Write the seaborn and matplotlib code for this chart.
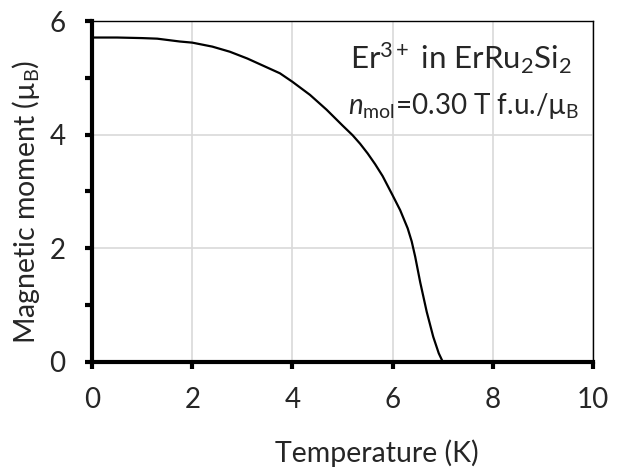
import seaborn as sns
import matplotlib.pyplot as plt
import pandas as pd

sns.set_style("white")
plt.rcParams['font.family'] = ['Lato', 'DejaVu Sans']
plt.rcParams['mathtext.fontset'] = 'custom'
plt.rcParams['mathtext.rm'] = 'Lato'
plt.rcParams['mathtext.it'] = 'Lato:italic'

# magnetic moment of Er3+ vs temperature
temperature = [0.0, 0.5, 1.0, 1.3, 1.75, 2.0, 2.4, 2.75, 3.1, 3.35, 3.75, 4.0, 4.35,
               4.68, 5.0, 5.2, 5.35, 5.5, 5.65, 5.8, 6.0, 6.15, 6.3, 6.38, 6.45, 6.55,
               6.68, 6.81, 6.92, 7.0, 10.0]
moment = [5.71, 5.71, 5.70, 5.69, 5.64, 5.62, 5.55, 5.46, 5.34, 5.24, 5.08, 4.93, 4.70,
          4.44, 4.16, 3.99, 3.84, 3.67, 3.48, 3.27, 2.93, 2.67, 2.35, 2.12, 1.85, 1.40,
          0.88, 0.44, 0.15, 0.0, 0.0]

data = pd.DataFrame({"Temperature (K)": temperature, "moment": moment})

fig = plt.figure(figsize=(6.18, 4.68), dpi=100)
ax = fig.add_axes([0.149, 0.227, 0.8106, 0.728])
sns.lineplot(x="Temperature (K)", y="moment", data=data, sort=False, color="black",
             linewidth=1.6, ax=ax)

ax.set_xlim(0, 10)
ax.set_ylim(0, 6)
ax.set_xticks(range(0, 11, 2))
ax.set_yticks(range(0, 7, 2))
ax.set_yticks([1, 3, 5], minor=True)
ax.grid(True, which="major", color="#d9d9d9", linewidth=1.2)
ax.set_axisbelow(True)

for side in ["left", "bottom"]:
    ax.spines[side].set_linewidth(3)
for side in ["top", "right"]:
    ax.spines[side].set_linewidth(1)
for s in ax.spines.values():
    s.set_color("black")

ax.tick_params(which="both", direction="out", length=5, width=3, color="black",
               labelsize=20)
ax.tick_params(axis="x", pad=13, bottom=True)
ax.tick_params(axis="y", which="both", pad=14, left=True)

ax.set_xlabel("Temperature (K)", fontsize=20.5)
ax.set_ylabel("Magnetic moment (µ$_{\\mathrm{B}}$)", fontsize=20.5)
ax.xaxis.set_label_coords(0.568, -0.227)
ax.yaxis.set_label_coords(-0.10, 0.469)

ax.text(0.958, 0.859, "Er$^{3+}$ in ErRu$_2$Si$_2$", transform=ax.transAxes,
        ha="right", va="baseline", fontsize=22.5)
ax.text(0.972, 0.727, "$\\it{n}$$_{\\mathrm{mol}}$=0.30 T f.u./µ$_{\\mathrm{B}}$",
        transform=ax.transAxes, ha="right", va="baseline", fontsize=20)

plt.savefig("out.png", dpi=100)
